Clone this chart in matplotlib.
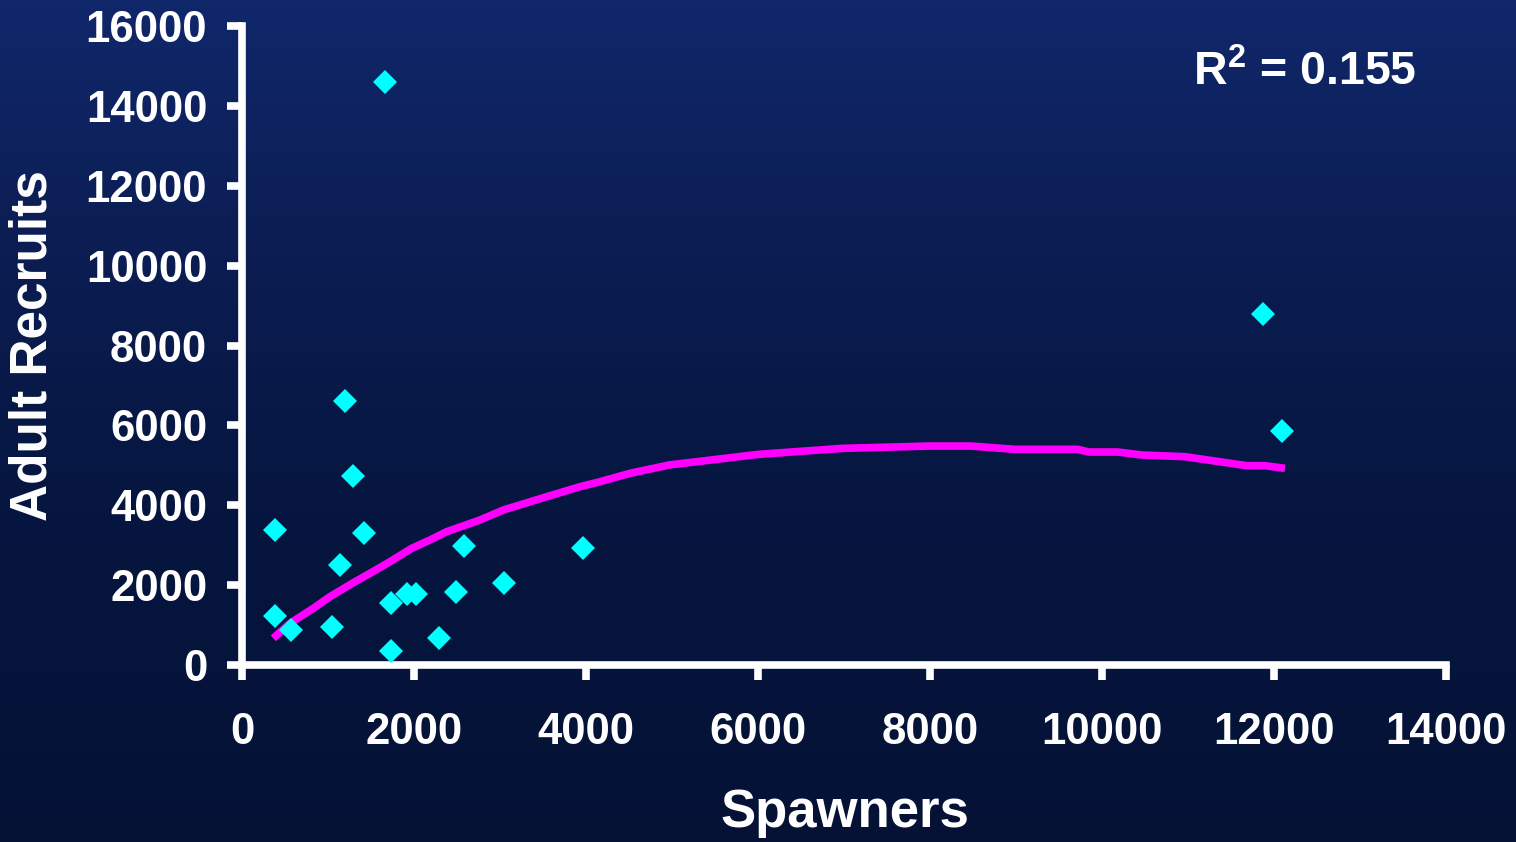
import numpy as np
import matplotlib
matplotlib.use("Agg")
import matplotlib.pyplot as plt
from matplotlib.colors import LinearSegmentedColormap

# Observed spawner / recruit pairs
spawners = [384, 384, 570, 1043, 1140, 1198, 1295, 1419, 1663, 1733, 1733,
            1915, 2019, 2295, 2488, 2581, 3050, 3961, 11868, 12089]
recruits = [3380, 1227, 876, 960, 2504, 6618, 4732, 3313, 14597, 1561, 351,
            1770, 1770, 685, 1836, 2979, 2045, 2921, 8781, 5866]

# Fitted stock-recruitment curve
curve_s = [364, 558, 829, 1023, 1295, 1488, 1721, 1973, 2186, 2380, 2767,
           3039, 3543, 3930, 4163, 4512, 4965, 6006, 6988, 8000, 8471, 8988,
           9717, 9849, 10186, 10465, 10965, 11686, 11895, 12128]
curve_r = [668, 1043, 1419, 1711, 2061, 2295, 2587, 2921, 3130, 3338, 3630,
           3881, 4214, 4464, 4590, 4800, 5008, 5275, 5425, 5483, 5483, 5400,
           5400, 5333, 5333, 5258, 5216, 4991, 4991, 4925]

x_ticks = [0, 2000, 4000, 6000, 8000, 10000, 12000, 14000]
y_ticks = [0, 2000, 4000, 6000, 8000, 10000, 12000, 14000, 16000]
r_squared = "0.155"

FONT = "Liberation Sans"
plt.rcParams["font.family"] = [FONT, "DejaVu Sans"]
plt.rcParams["mathtext.fontset"] = "custom"
plt.rcParams["mathtext.rm"] = FONT + ":bold"
plt.rcParams["mathtext.it"] = FONT + ":bold"
plt.rcParams["mathtext.bf"] = FONT + ":bold"

fig = plt.figure(figsize=(15.16, 8.42), dpi=100)

# Navy gradient backdrop
bg = fig.add_axes([0, 0, 1, 1], zorder=0)
bg.set_axis_off()
cmap = LinearSegmentedColormap.from_list(
    "navy", [(0.0, "#10276a"), (0.3, "#0b1d52"), (0.6, "#061640"), (1.0, "#051236")])
grad = np.linspace(0, 1, 256).reshape(-1, 1)
bg.imshow(grad, aspect="auto", cmap=cmap, extent=[0, 1, 0, 1], origin="upper")
bg.set_xlim(0, 1)
bg.set_ylim(0, 1)

ax = fig.add_axes([0.1596, 0.2102, 0.7942, 0.7589], zorder=1)
ax.patch.set_alpha(0)

ax.plot(curve_s, curve_r, color="#ff00ff", lw=5.5, solid_capstyle="butt",
        solid_joinstyle="round", zorder=2)
ax.plot(spawners, recruits, linestyle="none", marker="D", markersize=12,
        markerfacecolor="#00ffff", markeredgewidth=0, zorder=3)

ax.set_xlim(0, 14000)
ax.set_ylim(0, 16000)
ax.set_xticks(x_ticks)
ax.set_yticks(y_ticks)
ax.set_xticklabels([str(v) for v in x_ticks])
ax.set_yticklabels([str(v) for v in y_ticks])

for side in ("top", "right"):
    ax.spines[side].set_visible(False)
for side in ("left", "bottom"):
    ax.spines[side].set_color("white")
    ax.spines[side].set_linewidth(5.5)
    ax.spines[side].set_capstyle("projecting")

ax.tick_params(axis="both", colors="white", width=5.5, length=11, direction="out",
               labelsize=31.5)
ax.tick_params(axis="x", pad=23)
ax.tick_params(axis="y", pad=14)
for lbl in ax.get_xticklabels() + ax.get_yticklabels():
    lbl.set_fontweight("bold")
    lbl.set_color("white")

fig.text(0.557, (842 - 827) / 842, "Spawners", color="white", fontsize=38,
         fontweight="bold", ha="center", va="baseline")
fig.text(0.022, 0.59, "Adult Recruits", color="white", fontsize=37,
         fontweight="bold", rotation=90, ha="center", va="center")

fig.text(0.787, 0.899, "R$^2$ = " + r_squared, color="white", fontsize=33.5,
         fontweight="bold", ha="left", va="baseline")

fig.savefig("out.png", dpi=100)
